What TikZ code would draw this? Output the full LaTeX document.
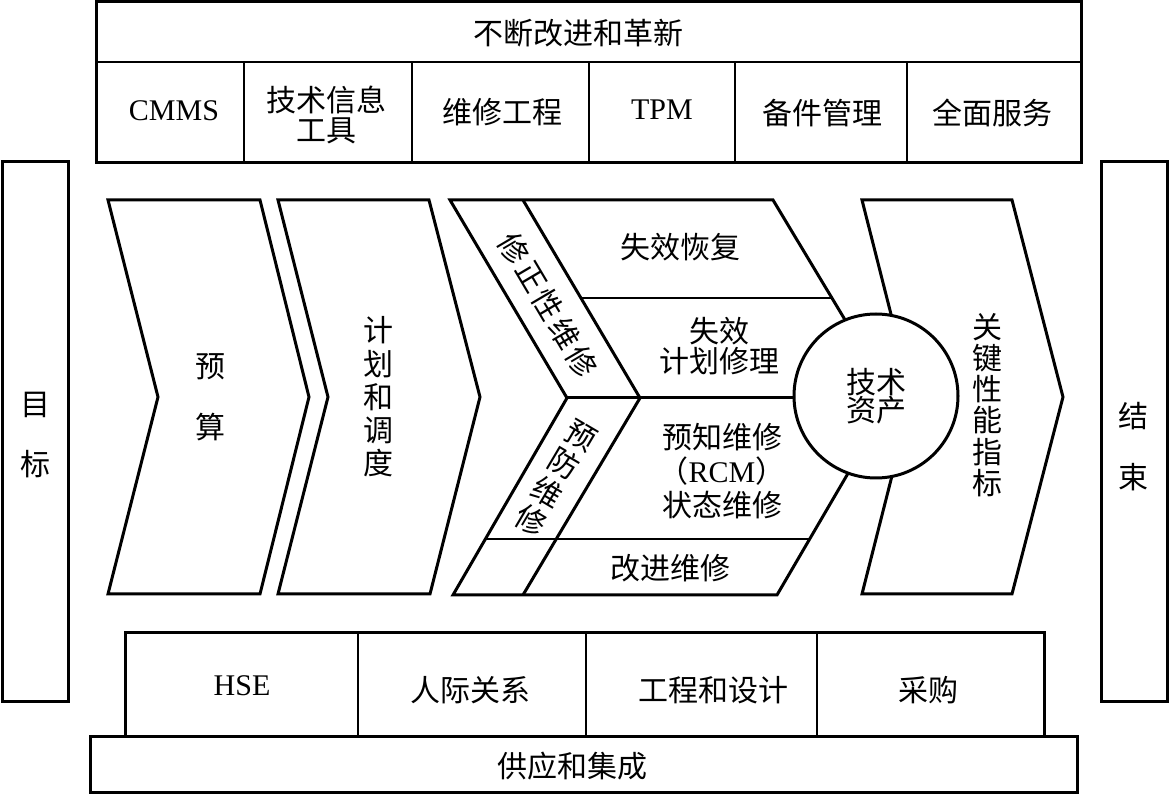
\documentclass[tikz,border=0pt]{standalone}
\usepackage{fontspec}
\setmainfont{Noto Sans CJK SC}
\newfontfamily\lat{Liberation Serif}
\begin{document}
\begin{tikzpicture}[x=0.5pt,y=-0.5pt,
  thickline/.style={line width=1.5pt, line join=miter},
  thinline/.style={line width=0.6pt},
  lbl/.style={inner sep=0pt, align=center, font=\fontsize{15}{15}\selectfont}]
\useasboundingbox (0,0) rectangle (1169,796);

% top box
\draw[thickline] (96,2) rectangle (1081,163);
\draw[thinline] (96,62) -- (1081,62);
\foreach \x in {244,412,589,735,907} \draw[thinline] (\x,62) -- (\x,163);
\node[lbl] (top) at (578,33) {不断改进和革新};
\node[lbl] (cmms) at (174,111) {\lat CMMS};
\node[lbl] (tit) at (326,115) {技术信息\\工具};
\node[lbl] (wxgc) at (502,112) {维修工程};
\node[lbl] (tpm) at (662,110) {\lat TPM};
\node[lbl] (bjgl) at (822,113) {备件管理};
\node[lbl] (qmfw) at (992,113) {全面服务};

% side bars
\draw[thickline] (2,162) rectangle (68,702);
\node[lbl, font=\fontsize{15}{30}\selectfont] (goal) at (35,435) {目\\标};
\draw[thickline] (1101,162) rectangle (1167,702);
\node[lbl, font=\fontsize{15}{30.5}\selectfont] (end) at (1133,447) {结\\束};

% bottom
\draw[thickline] (125,633) rectangle (1044,737);
\foreach \x in {358,586,817} \draw[thinline] (\x,633) -- (\x,737);
\draw[thickline, fill=white] (90,737) rectangle (1077,793);
\node[lbl] (hse) at (242,686) {\lat HSE};
\node[lbl] (rjgx) at (470,690) {人际关系};
\node[lbl] (gcsj) at (713,690) {工程和设计};
\node[lbl] (cg) at (928,690) {采购};
\node[lbl] (gyjc) at (572,766) {供应和集成};

% chevron 1
\draw[thickline] (108,200) -- (260,200) -- (309,397) -- (260,594) -- (108,594) -- (158,397) -- cycle;
\node[lbl, font=\fontsize{15}{30.5}\selectfont] (ys) at (210,397) {预\\算};
% chevron 2
\draw[thickline] (278,200) -- (429,200) -- (480,397) -- (430,594) -- (278,594) -- (328,397) -- cycle;
\node[lbl, font=\fontsize{15}{16.6}\selectfont] (jh) at (378,397) {计\\划\\和\\调\\度};

% chevron 3
\draw[thinline] (581,298) -- (832,298);
\draw[thinline] (485,539) -- (810,539);
\draw[thickline] (450,200) -- (773,200) -- (892,398) -- (777,595) -- (453,595) -- (567,398) -- cycle;
\draw[thickline] (523,200) -- (640,398) -- (523,595);
\draw[thickline] (567,398) -- (876,398);
\foreach \c [count=\i] in {修,正,性,维,修}
  \node[lbl, rotate=-59.4] (xz\i) at ({548+16.8*(\i-3)},{305+28.4*(\i-3)}) {\c};
\foreach \c [count=\i] in {预,防,维,修}
  \node[lbl, rotate=-30.6] (yf\i) at ({556-16.8*(\i-2.5)},{478+28.4*(\i-2.5)}) {\c};
\node[lbl] (sxhf) at (680,247) {失效恢复};
\node[lbl] (sxjh) at (719,346) {失效\\计划修理};
\node[lbl, font=\fontsize{15}{17}\selectfont] (yzwx) at (722,471) {预知维修\\（{\lat RCM}）\\状态维修};
\node[lbl] (gjwx) at (670,568) {改进维修};

% chevron 4
\draw[thickline] (862,200) -- (1012,200) -- (1063,397) -- (1012,594) -- (862,594) -- (912,397) -- cycle;
\node[lbl, font=\fontsize{15}{15.6}\selectfont] (kpi) at (987,405) {关\\键\\性\\能\\指\\标};

% circle
\node[draw, circle, line width=1.5pt, fill=white, minimum size=82pt, inner sep=0pt,
      align=center, font=\fontsize{15}{14}\selectfont] (asset) at (876,396) {技术\\资产};
\end{tikzpicture}
\end{document}
